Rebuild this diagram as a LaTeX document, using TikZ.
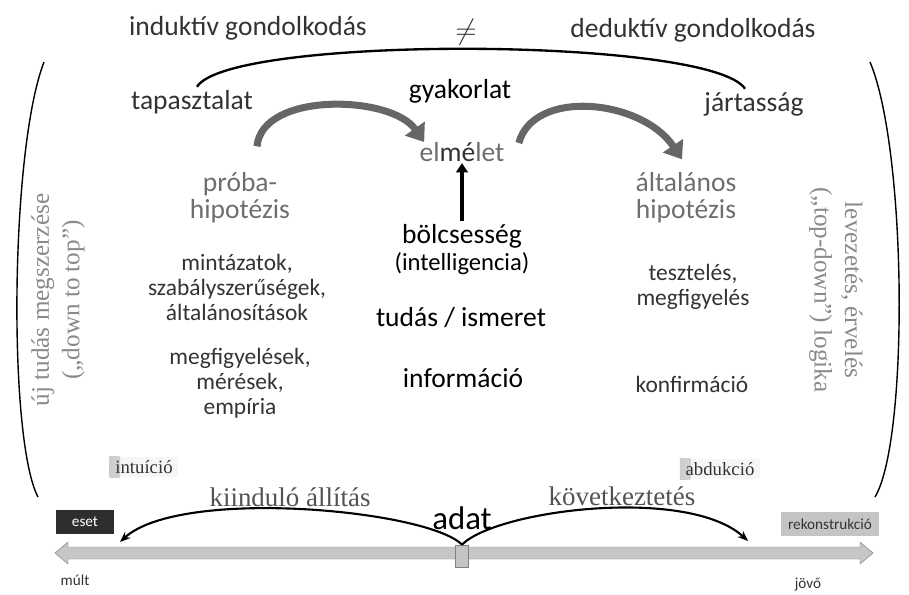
\documentclass[tikz,border=0pt]{standalone}
\usepackage{fontspec}
\setmainfont{Liberation Serif}
\setsansfont{Carlito}
\usetikzlibrary{arrows.meta}
\definecolor{txtdark}{HTML}{333333}
\definecolor{txtgray}{HTML}{6E6E6E}
\definecolor{txtlight}{HTML}{8A8A8A}
\definecolor{arcgray}{HTML}{666666}
\definecolor{linegray}{HTML}{C6C6C6}
\definecolor{boxdark}{HTML}{2E2E2E}
\definecolor{boxlight}{HTML}{C4C4C4}

\begin{document}
\begin{tikzpicture}[x=0.3mm,y=0.3mm,
    every node/.style={font=\sffamily,inner sep=1pt,align=center},
    big/.style={font=\sffamily\fontsize{23.5}{23}\selectfont},
    mid/.style={font=\sffamily\fontsize{20}{21.3}\selectfont,text=txtdark},
    vert/.style={font=\rmfamily\fontsize{21.5}{26}\selectfont,text=txtlight},
    ser/.style={font=\rmfamily\fontsize{23}{23}\selectfont,text=txtdark!85},
    soft/.style={font=\rmfamily\fontsize{16}{16}\selectfont,text=txtdark,fill=gray!7,
        inner xsep=5pt,inner ysep=3pt,
        path picture={\shade[left color=gray!40,right color=gray!7]
            (path picture bounding box.south west) rectangle
            ([xshift=9pt]path picture bounding box.north west);}},
    bigarc/.style={line width=6pt,arcgray,-{Triangle[length=14pt,width=20pt]}},
    timearc/.style={line width=1.8pt,-{Stealth[length=9pt,width=7pt]}}]
    \useasboundingbox (0,0) rectangle (909,-594);

    % fejlec
    \node[big,text=txtdark] (ind) at (248,-28) {induktív gondolkodás};
    \node[font=\fontsize{30}{30}\selectfont,text=txtdark] (neq) at (466,-32) {$\neq$};
    \node[big,text=txtdark] (ded) at (693,-30) {deduktív gondolkodás};

    \node[big,text=txtdark] (tap) at (192,-102) {tapasztalat};
    \node[big] (gyak) at (460,-91) {gyakorlat};
    \node[big,text=txtdark] (jart) at (754,-104) {jártasság};
    \node[big,text=txtgray] (elm) at (462,-152) {el\textcolor{txtdark}{mé}let};

    \node[big,text=txtgray] (proba) at (240,-198) {próba-\\hipotézis};
    \node[big,text=txtgray] (altal) at (686,-198) {általános\\hipotézis};
    \node[big] (bolcs) at (462,-250) {bölcsesség\\{\fontsize{21}{22}\selectfont(intelligencia)}};

    \node[mid] (mint) at (237,-287) {mintázatok,\\szabályszerűségek,\\általánosítások};
    \node[mid] (teszt) at (693,-287) {tesztelés,\\megfigyelés};
    \node[big] (tudas) at (461,-318) {tudás / ismeret};
    \node[mid] (megf) at (240,-383) {megfigyelések,\\mérések,\\empíria};
    \node[big] (info) at (463,-378) {információ};
    \node[mid] (konf) at (692,-384) {konfirmáció};

    \node[vert,rotate=90] (uj) at (58,-300) {új tudás megszerzése\\(„down to top”)};
    \node[vert,rotate=-90] (lev) at (836,-290) {levezetés, érvelés\\(„top-down”) logika};

    \node[soft] (intu) at (144,-467) {intuíció};
    \node[soft] (abd) at (720,-469) {abdukció};
    \node[ser] (kiin) at (290,-497) {kiinduló állítás};
    \node[ser] (kov) at (622,-496) {következtetés};
    \node[font=\sffamily\fontsize{28}{28}\selectfont] (adat) at (462,-518) {adat};
    \node[fill=boxdark,text=white,font=\sffamily\fontsize{13}{13}\selectfont,
        minimum width=50pt,minimum height=21pt] (eset) at (85,-522) {eset};
    \node[fill=boxlight,text=txtdark,font=\sffamily\fontsize{13}{13}\selectfont,
        minimum width=84pt,minimum height=21pt] (rek) at (830,-524) {rekonstrukció};

    \node[font=\sffamily\fontsize{13}{13}\selectfont,text=txtdark] (mult) at (75,-580) {múlt};
    \node[font=\sffamily\fontsize{13}{13}\selectfont,text=txtdark] (jovo) at (808,-585) {jövő};

    % zarojelek
    \draw[line width=1.2pt] (44,-62) .. controls (10,-150) and (8,-440) .. (38,-497);
    \draw[line width=1.2pt] (870,-62) .. controls (907,-150) and (909,-440) .. (875,-497);
    \draw[line width=2pt] ([shift={(5,2)}]tap.north) .. controls +(32,52) and +(-34,52) .. ([shift={(-9,2)}]jart.north);

    \draw[bigarc] ([shift={(17,25)}]proba.north) .. controls +(5,55) and +(-33,47) .. ([shift={(6,10)}]elm.west);
    \draw[bigarc] ([shift={(13,9)}]elm.east) .. controls +(15,55) and +(-40,60) .. ([shift={(-4,12)}]altal.north);
    \draw[line width=3pt,-{Triangle[length=8pt,width=10pt]}] ([yshift=2pt]bolcs.north) -- (elm.south);

    % idovonal
    \filldraw[fill=linegray,draw=gray] (55,-553) -- (68,-542) -- (68,-547) -- (860,-547) -- (860,-542)
        -- (873,-553) -- (860,-564) -- (860,-559) -- (68,-559) -- (68,-564) -- cycle;
    \node[fill=boxlight,draw=gray,minimum width=11pt,minimum height=19pt,inner sep=0pt] (now) at (462,-556) {};
    \coordinate (past) at (120,-542);
    \coordinate (future) at (748,-541);
    \draw[timearc] (now.north) .. controls +(-35,35) and +(60,55) .. (past);
    \draw[timearc] (now.north) .. controls +(35,35) and +(-60,55) .. (future);
\end{tikzpicture}
\end{document}
